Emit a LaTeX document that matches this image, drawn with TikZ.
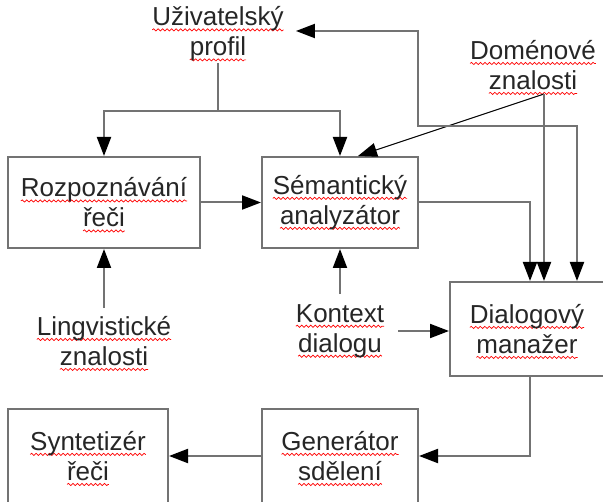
\documentclass[tikz,border=0pt]{standalone}
\usepackage{fontspec}
\setmainfont{Liberation Sans}
\usetikzlibrary{positioning,arrows.meta,decorations.pathmorphing}

% red spell-check wave under a word
\newsavebox\sqbox
\newlength\sqw
\newcommand{\sq}[1]{\sbox\sqbox{#1}\setlength\sqw{\wd\sqbox}%
  \rlap{\tikz[overlay,x=1pt,y=1pt]\draw[red, line width=0.7pt, decorate,
    decoration={snake,amplitude=1.1pt,segment length=4.5pt}] (0,-4) -- (\sqw,-4);}%
  \usebox\sqbox}

\tikzset{
  box/.style={draw=black!55, line width=2pt, align=center, inner sep=0pt,
    minimum width=156pt, minimum height=91pt, text=black!85},
  lbl/.style={align=center, inner sep=2pt, text=black!85},
  link/.style={draw=black!55, line width=2pt},
  head/.tip={Triangle[length=19pt,width=14pt,color=black]},
  flow/.style={link, -head},
  both/.style={link, head-head},
  thinflow/.style={draw=black, line width=1pt, -{Triangle[length=19pt,width=14pt]}}
}

\begin{document}
\begin{tikzpicture}[x=1pt, y=-1pt, node distance=60pt, font=\fontsize{26}{30}\selectfont]
  \useasboundingbox (0,0) rectangle (603,502);

  \node[box, minimum width=192pt] (rec) at (104,202.5) {\sq{Rozpoznávání}\\\sq{řeči}};
  \node[box, right=of rec] (sem) {\sq{Sémantický}\\\sq{analyzátor}};
  \node[box, minimum width=154pt, minimum height=94pt] (dm) at (527,329) {\sq{Dialogový}\\\sq{manažer}};
  \node[box, minimum height=94pt, below=159pt of sem] (gen) {\sq{Generátor}\\\sq{sdělení}};
  \node[box, minimum width=160pt, minimum height=94pt, left=92pt of gen] (syn) {\sq{Syntetizér}\\\sq{řeči}};

  \node[lbl] (prof) at (218,34) {\sq{Uživatelský}\\\sq{profil}};
  \node[lbl] (dom) at (533,65) {\sq{Doménové}\\\sq{znalosti}};
  \node[lbl] (ling) at (104,341) {\sq{Lingvistické}\\\sq{znalosti}};
  \node[lbl] (ctx) at (340,331) {\sq{Kontext}\\\sq{dialogu}};

  \coordinate (psplit) at (218,111);
  \coordinate (dsplit) at (544,94);
  \coordinate (loop) at (418,126);

  \draw[link] (prof) -- (psplit);
  \draw[flow] (psplit) -| (rec.north);
  \draw[flow] (psplit) -| (sem.north);
  \draw[flow] (rec) -- (sem);
  \draw[flow] (sem.east) -| ([xshift=3pt]dm.north);
  \draw[thinflow] (dsplit) -- ([xshift=18pt]sem.north);
  \draw[flow] (dsplit) -- (dsplit |- dm.north);
  \draw[both] ([xshift=10pt,yshift=3pt]prof.east) -| (loop) -| ([xshift=50pt]dm.north);
  \draw[flow] ([yshift=6pt]ling.north) -- (ling.north |- rec.south);
  \draw[flow] ([yshift=8pt]ctx.north) -- (ctx.north |- sem.south);
  \draw[flow] ([xshift=12pt]ctx.east) -- (ctx.east -| dm.west);
  \draw[flow] ([xshift=3pt]dm.south) |- (gen.east);
  \draw[flow] (gen) -- (syn);
\end{tikzpicture}
\end{document}
